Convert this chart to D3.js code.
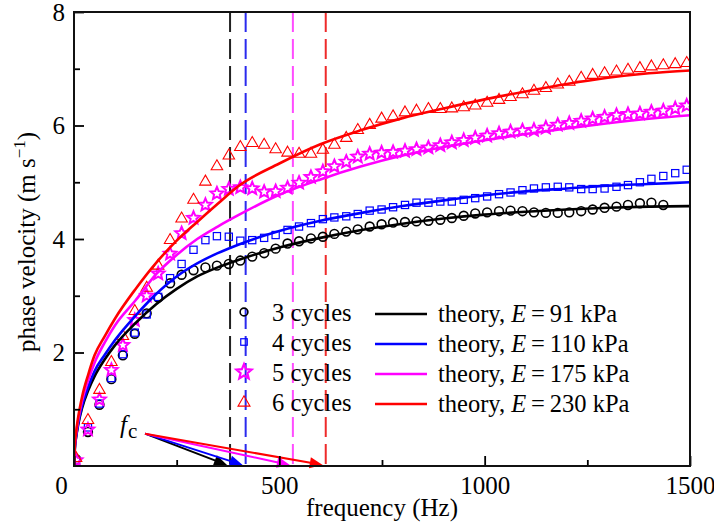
<!DOCTYPE html>
<html><head><meta charset="utf-8">
<script src="https://cdn.jsdelivr.net/npm/d3@7"></script>
<style>
body{margin:0;background:#fff}
svg{display:block}
</style>
</head><body><svg id="c" width="714" height="528"></svg>
<script>
// ---------------- data ----------------
const freq = [5, 34, 62, 91, 119, 148, 177, 205, 234, 262, 291, 320, 348, 377, 405, 434, 463, 491, 520, 548,
  577, 606, 634, 663, 691, 720, 749, 777, 806, 834, 863, 892, 920, 949, 977, 1006, 1035, 1063, 1092, 1120,
  1149, 1178, 1206, 1235, 1263, 1292, 1321, 1349, 1378, 1406, 1435, 1464, 1492];

const cycles3 = [0.12, 0.60, 1.08, 1.53, 1.95, 2.33, 2.69, 2.97, 3.22, 3.37, 3.45, 3.50, 3.53, 3.56, 3.62, 3.69,
  3.75, 3.83, 3.92, 3.96, 4.01, 4.04, 4.09, 4.13, 4.17, 4.22, 4.26, 4.29, 4.30, 4.31, 4.32, 4.34, 4.37, 4.41,
  4.45, 4.47, 4.49, 4.50, 4.49, 4.47, 4.46, 4.46, 4.47, 4.49, 4.52, 4.55, 4.57, 4.60, 4.63, 4.64, 4.60, null, null];

const cycles4 = [0.10, 0.68, 1.10, 1.55, 1.97, 2.35, 2.67, 2.98, 3.31, 3.56, 3.81, 3.98, 4.05, 4.04, 3.97, 3.98,
  4.02, 4.07, 4.16, 4.22, 4.28, 4.35, 4.38, 4.40, 4.44, 4.50, 4.52, 4.56, 4.60, 4.64, 4.64, 4.66, 4.66, 4.69,
  4.72, 4.75, 4.79, 4.82, 4.86, 4.89, 4.91, 4.92, 4.91, 4.88, 4.88, 4.89, 4.92, 4.95, 5.00, 5.06, 5.11, 5.16, 5.22];

const cycles5 = [0.10, 0.64, 1.17, 1.69, 2.13, 2.57, 3.00, 3.39, 3.74, 4.10, 4.37, 4.60, 4.80, 4.88, 4.91, 4.89,
  4.83, 4.84, 4.90, 4.99, 5.09, 5.19, 5.28, 5.36, 5.45, 5.50, 5.52, 5.53, 5.55, 5.58, 5.61, 5.65, 5.70, 5.74,
  5.78, 5.82, 5.86, 5.89, 5.91, 5.92, 5.96, 6.01, 6.04, 6.08, 6.12, 6.15, 6.18, 6.20, 6.21, 6.24, 6.26, 6.30, 6.35];

const cycles6 = [0.15, 0.82, 1.35, 1.84, 2.30, 2.74, 3.15, 3.54, 3.99, 4.37, 4.70, 5.02, 5.29, 5.48, 5.63, 5.70,
  5.67, 5.59, 5.53, 5.51, 5.51, 5.58, 5.67, 5.79, 5.93, 6.02, 6.13, 6.17, 6.24, 6.27, 6.30, 6.30, 6.31, 6.33,
  6.36, 6.41, 6.46, 6.51, 6.56, 6.62, 6.67, 6.73, 6.78, 6.85, 6.90, 6.93, 6.96, 6.99, 7.02, 7.05, 7.07, 7.09, 7.11];

const theoryFreq = [0, 2, 5, 10, 20, 35, 50, 75, 100, 150, 200, 250, 300, 350, 400, 500, 600, 700, 800, 900, 1000,
  1100, 1200, 1300, 1400, 1500];
const theory91  = [0, 0.30, 0.50, 0.72, 1.03, 1.34, 1.58, 1.88, 2.13, 2.52, 2.85, 3.12, 3.34, 3.50, 3.63, 3.85, 4.02,
  4.16, 4.27, 4.36, 4.43, 4.48, 4.52, 4.55, 4.57, 4.58];
const theory110 = [0, 0.31, 0.51, 0.74, 1.07, 1.40, 1.67, 1.96, 2.22, 2.65, 3.03, 3.34, 3.57, 3.75, 3.90, 4.14, 4.32,
  4.46, 4.58, 4.68, 4.77, 4.84, 4.89, 4.94, 4.97, 5.00];
const theory175 = [0, 0.35, 0.56, 0.80, 1.16, 1.52, 1.82, 2.18, 2.48, 2.92, 3.38, 3.72, 4.00, 4.22, 4.42, 4.78, 5.05,
  5.28, 5.47, 5.62, 5.74, 5.85, 5.95, 6.04, 6.12, 6.18];
const theory230 = [0, 0.37, 0.59, 0.85, 1.23, 1.62, 1.95, 2.29, 2.60, 3.12, 3.58, 3.97, 4.30, 4.62, 4.93, 5.33, 5.67,
  5.92, 6.13, 6.30, 6.46, 6.60, 6.73, 6.84, 6.92, 6.97];

const cutoffFreq = [380, 418, 533, 613];   // f_c for 3,4,5,6 cycles
const fcLabelPoint = [173, 0.57];          // origin of the f_c arrows (Hz, m/s)

const xMajorTicks = [0, 500, 1000, 1500];
const xMinorTicks = [250, 750, 1250];
const yMajorTicks = [2, 4, 6, 8];
const yMinorTicks = [1, 3, 5, 7];

const seriesLabels = ["3 cycles", "4 cycles", "5 cycles", "6 cycles"];
const theoryE = ["91", "110", "175", "230"];
const colors = ["#000000", "#0000ff", "#ff00ff", "#ff0000"];
const dashColors = ["#222222", "#2a2aee", "#ff4cff", "#ee2a2a"];
const markerShapes = ["circle", "square", "star", "triangle"];

// ---------------- drawing ----------------
const FONT = "'Liberation Serif', 'DejaVu Serif', 'Noto Serif', 'Times New Roman', Times, serif";
const svg = d3.select("#c").attr("font-family", FONT);
svg.append("rect").attr("width", 714).attr("height", 528).attr("fill", "#fff");

const x = d3.scaleLinear().domain([0, 1500]).range([74, 690]);
const y = d3.scaleLinear().domain([0, 8]).range([466, 12]);

svg.append("defs").append("clipPath").attr("id", "plot")
  .append("rect").attr("x", 74).attr("y", 12).attr("width", 616).attr("height", 454);

const plot = svg.append("g").attr("clip-path", "url(#plot)");

// dashed cutoff lines
plot.selectAll("line.fc").data(cutoffFreq).join("line")
  .attr("class", "fc")
  .attr("x1", d => x(d)).attr("x2", d => x(d))
  .attr("y1", y(8)).attr("y2", y(0))
  .attr("stroke", (d, i) => dashColors[i])
  .attr("stroke-width", 2)
  .attr("stroke-dasharray", "20,7");

function starPath(R, r) {
  const pts = [];
  for (let i = 0; i < 10; i++) {
    const a = -Math.PI / 2 + i * Math.PI / 5;
    const rad = i % 2 === 0 ? R : r;
    pts.push([rad * Math.cos(a), rad * Math.sin(a)]);
  }
  return "M" + pts.map(p => p[0].toFixed(2) + "," + p[1].toFixed(2)).join("L") + "Z";
}
function trianglePath(w) {
  const h = w * 0.866;
  return `M0,${(-h * 0.6).toFixed(2)}L${(w / 2).toFixed(2)},${(h * 0.4).toFixed(2)}L${(-w / 2).toFixed(2)},${(h * 0.4).toFixed(2)}Z`;
}

function drawMarker(g, shape, color, legend) {
  if (shape === "circle") {
    g.append("circle").attr("r", legend ? 3.9 : 4.4)
      .attr("fill", "none").attr("stroke", color).attr("stroke-width", 1.6);
  } else if (shape === "square") {
    const s = legend ? 6.5 : 7.2;
    g.append("rect").attr("x", -s / 2).attr("y", -s / 2).attr("width", s).attr("height", s)
      .attr("fill", "none").attr("stroke", color).attr("stroke-width", 1.2);
  } else if (shape === "star") {
    g.append("path").attr("d", legend ? starPath(8, 3.6) : starPath(6.6, 3.0))
      .attr("fill", "none").attr("stroke", color).attr("stroke-width", legend ? 2.2 : 2)
      .attr("stroke-linejoin", "miter");
  } else {
    g.append("path").attr("d", trianglePath(legend ? 12 : 11.5))
      .attr("fill", "none").attr("stroke", color).attr("stroke-width", 1.1);
  }
}

// measured points
const measured = [cycles3, cycles4, cycles5, cycles6];
measured.forEach((vals, si) => {
  const pts = freq.map((f, i) => ({ f, v: vals[i] })).filter(d => d.v !== null);
  const g = plot.append("g");
  g.selectAll("g").data(pts).join("g")
    .attr("transform", d => `translate(${x(d.f)},${y(d.v)})`)
    .each(function () { drawMarker(d3.select(this), markerShapes[si], colors[si], false); });
});

// theory curves
const theories = [theory91, theory110, theory175, theory230];
const line = d3.line().x(d => x(d.f)).y(d => y(d.v)).curve(d3.curveMonotoneX);
theories.forEach((vals, si) => {
  plot.append("path")
    .datum(theoryFreq.map((f, i) => ({ f, v: vals[i] })))
    .attr("d", line)
    .attr("fill", "none")
    .attr("stroke", colors[si])
    .attr("stroke-width", 2.6);
});

// f_c arrows
const ax0 = x(fcLabelPoint[0]), ay0 = y(fcLabelPoint[1]);
cutoffFreq.forEach((fc, i) => {
  const tx = x(fc) - 3, ty = y(0) - 1;
  const dx = tx - ax0, dy = ty - ay0, L = Math.hypot(dx, dy);
  const ux = dx / L, uy = dy / L;
  const hl = 13, hw = 5.5;
  const bx = tx - ux * hl, by = ty - uy * hl;
  svg.append("line").attr("x1", ax0).attr("y1", ay0).attr("x2", bx + ux * 2).attr("y2", by + uy * 2)
    .attr("stroke", colors[i]).attr("stroke-width", 2);
  svg.append("path")
    .attr("d", `M${tx},${ty}L${bx - uy * hw},${by + ux * hw}L${bx + uy * hw},${by - ux * hw}Z`)
    .attr("fill", colors[i]);
});

// f_c label
const fcText = svg.append("text").attr("x", ax0 - 25).attr("y", ay0 - 1).attr("font-size", 25);
fcText.append("tspan").attr("font-style", "italic").text("f");
fcText.append("tspan").attr("dx", 1).attr("dy", 5).attr("font-size", 21).text("c");

// axes
const fontSize = 25;
const xAxis = svg.append("g").attr("transform", `translate(0,${y(0)})`)
  .call(d3.axisBottom(x).tickValues(xMajorTicks).tickSize(-10).tickPadding(10).tickFormat(d3.format("d")));
xAxis.append("g").call(d3.axisBottom(x).tickValues(xMinorTicks).tickSize(-6).tickFormat(""));
xAxis.selectAll(".tick").filter(d => d === 0).select("text").attr("x", -13);

const yAxis = svg.append("g").attr("transform", `translate(${x(0)},0)`)
  .call(d3.axisLeft(y).tickValues(yMajorTicks).tickSize(-10).tickPadding(9).tickFormat(d3.format("d")));
yAxis.append("g").call(d3.axisLeft(y).tickValues(yMinorTicks).tickSize(-6).tickFormat(""));

svg.selectAll("g").filter(function () { return this.hasAttribute("font-family"); })
  .attr("font-family", FONT).attr("font-size", fontSize);
svg.selectAll(".tick text").attr("fill", "#000");
svg.selectAll(".domain").remove();
svg.selectAll(".tick line").attr("stroke", "#000").attr("stroke-width", 1.8);

// frame
svg.append("rect").attr("x", 74).attr("y", 12).attr("width", 616).attr("height", 454)
  .attr("fill", "none").attr("stroke", "#111").attr("stroke-width", 2);

// axis titles
svg.append("text").attr("x", (x(0) + x(1500)) / 2).attr("y", 516)
  .attr("text-anchor", "middle").attr("font-size", fontSize).text("frequency (Hz)");

const yt = svg.append("text").attr("transform", `translate(35,${(y(0) + y(8)) / 2 + 3}) rotate(-90)`)
  .attr("text-anchor", "middle").attr("font-size", fontSize);
yt.append("tspan").text("phase velocity (m s");
yt.append("tspan").attr("dy", -10).attr("font-size", 17).text("\u22121");
yt.append("tspan").attr("dy", 10).text(")");

// legend
const legendRows = seriesLabels.map((s, i) => 313 + i * 30);
seriesLabels.forEach((s, i) => {
  const ry = legendRows[i];
  const g = svg.append("g").attr("transform", `translate(244,${ry - 1})`);
  drawMarker(g, markerShapes[i], colors[i], true);
  svg.append("text").attr("x", 272).attr("y", ry + 8).attr("font-size", 24.5).text(s);

  svg.append("line").attr("x1", 375).attr("x2", 427).attr("y1", ry + 1).attr("y2", ry + 1)
    .attr("stroke", colors[i]).attr("stroke-width", 2.6);
  const t = svg.append("text").attr("x", 438).attr("y", ry + 8.5).attr("font-size", 24.5);
  t.append("tspan").text("theory,\u00a0");
  t.append("tspan").attr("font-style", "italic").text("E");
  t.append("tspan").text("\u2009=\u2009" + theoryE[i] + "\u00a0kPa");
});
</script>
</body></html>
